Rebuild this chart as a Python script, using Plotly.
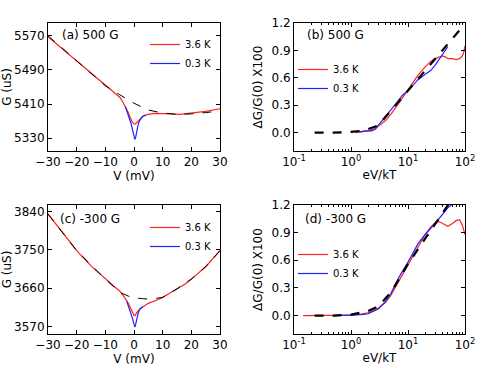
import plotly.graph_objects as go

# (a) 500 G : G vs V
v_a_red = [-30, -25, -20, -15, -10, -7, -5, -4, -3, -2, -1.5, -1, -0.5, 0, 0.3, 0.6, 1, 1.5, 2, 3, 4, 5, 7, 10, 13, 16, 20, 25, 30]
g_a_red = [5568, 5540, 5512, 5483, 5454, 5439, 5426, 5416, 5404, 5390, 5381, 5373, 5367, 5364, 5363, 5364, 5367, 5372, 5376, 5381, 5384, 5386, 5388, 5388, 5387, 5386, 5389, 5393, 5399]
v_a_blue = [-3, -2, -1.5, -1, -0.5, 0, 0.3, 0.6, 1, 1.5, 2, 3, 4]
g_a_blue = [5404, 5386, 5376, 5364, 5349, 5333, 5327, 5333, 5349, 5363, 5372, 5381, 5384]
v_a_bg = [-30, -20, -10, -5, 0, 5, 10, 15, 20, 25, 30]
g_a_bg = [5570, 5512, 5453, 5432, 5412, 5396, 5389, 5386, 5387, 5390, 5394]

# (c) -300 G : G vs V
v_c_red = [-30, -25, -20, -15, -10, -7, -5, -4, -3, -2, -1, -0.5, 0, 0.3, 0.6, 1, 2, 3, 5, 8, 10, 13, 15, 18, 20, 25, 30]
g_c_red = [3834, 3790, 3748, 3712, 3681, 3664, 3653, 3645, 3635, 3624, 3610, 3601, 3596, 3595, 3597, 3602, 3611, 3616, 3624, 3632, 3638, 3650, 3658, 3670, 3681, 3710, 3748]
v_c_blue = [-2.5, -2, -1.5, -1, -0.5, 0, 0.3, 0.6, 1, 1.5, 2, 3]
g_c_blue = [3628, 3619, 3610, 3600, 3588, 3575, 3568, 3575, 3590, 3602, 3610, 3616]
v_c_bg = [-30, -20, -10, -5, -2, 0, 3, 5, 8, 10, 15, 20, 25, 30]
g_c_bg = [3834, 3748, 3681, 3650, 3641, 3637, 3635, 3634, 3636, 3638, 3658, 3681, 3710, 3748]

# (b) 500 G : dG/G(0) vs eV/kT
x_b_red = [1.2, 1.5, 2, 2.5, 3, 4, 5, 7, 10, 15, 20, 25, 30, 35, 40, 45, 50, 60, 70, 80, 90, 95, 100]
y_b_red = [0.0, 0.01, 0.02, 0.04, 0.07, 0.13, 0.2, 0.33, 0.47, 0.63, 0.72, 0.78, 0.81, 0.83, 0.84, 0.83, 0.81, 0.81, 0.8, 0.81, 0.84, 0.88, 0.95]
x_b_blue = [1.4, 1.8, 2.3, 2.7, 3, 4, 5, 6, 8, 10, 15, 20, 25, 30, 35, 40, 45, 50]
y_b_blue = [0.01, 0.02, 0.02, 0.04, 0.08, 0.17, 0.25, 0.31, 0.41, 0.46, 0.58, 0.64, 0.68, 0.74, 0.8, 0.85, 0.9, 0.94]
x_b_fit = [0.23, 0.5, 1, 1.5, 2, 3, 5, 10, 20, 30, 50, 100]
y_b_fit = [0.0, 0.0, 0.01, 0.02, 0.04, 0.08, 0.24, 0.46, 0.68, 0.81, 0.97, 1.19]

# (d) -300 G
x_d_red = [0.145, 0.3, 0.5, 1, 1.5, 2, 3, 4, 5, 7, 10, 15, 20, 25, 30, 35, 40, 50, 60, 70, 80, 90, 100]
y_d_red = [0.0, 0.0, 0.0, 0.005, 0.015, 0.03, 0.08, 0.14, 0.22, 0.38, 0.55, 0.75, 0.88, 0.96, 1.01, 1.02, 1.0, 0.97, 1.0, 1.03, 1.04, 0.98, 0.88]
x_d_blue = [0.5, 1, 1.5, 2, 3, 4, 5, 7, 10, 15, 20, 30, 40, 50, 60]
y_d_blue = [0.0, 0.005, 0.01, 0.02, 0.07, 0.15, 0.24, 0.42, 0.58, 0.78, 0.88, 1.0, 1.1, 1.17, 1.21]
x_d_fit = [0.23, 0.5, 1, 2, 3, 5, 10, 20, 30, 50, 60]
y_d_fit = [0.0, 0.0, 0.01, 0.05, 0.1, 0.25, 0.56, 0.84, 1.0, 1.2, 1.27]

log_ticks = [0.1, 1, 10, 100]
log_ticktext = ['10<sup>-1</sup>', '10<sup>0</sup>', '10<sup>1</sup>', '10<sup>2</sup>']
log_minor = [m * d for d in (0.1, 1, 10) for m in range(2, 10)]

FONT = 'DejaVu Sans'
RED = '#ff2020'
BLUE = '#2020ff'

fig = go.Figure()

panels = [
    # axis suffix, data, legend name, dash width
    ('', v_a_red, g_a_red, v_a_blue, g_a_blue, v_a_bg, g_a_bg, 'legend', 1.0),
    ('2', x_b_red, y_b_red, x_b_blue, y_b_blue, x_b_fit, y_b_fit, 'legend2', 2.2),
    ('3', v_c_red, g_c_red, v_c_blue, g_c_blue, v_c_bg, g_c_bg, 'legend3', 1.0),
    ('4', x_d_red, y_d_red, x_d_blue, y_d_blue, x_d_fit, y_d_fit, 'legend4', 2.2),
]

for ax, xr, yr, xb, yb, xk, yk, leg, kw in panels:
    fig.add_trace(go.Scatter(x=xr, y=yr, mode='lines', name='3.6 K',
                             line=dict(color=RED, width=1.2),
                             xaxis='x' + ax, yaxis='y' + ax, legend=leg))
    fig.add_trace(go.Scatter(x=xb, y=yb, mode='lines', name='0.3 K',
                             line=dict(color=BLUE, width=1.2),
                             xaxis='x' + ax, yaxis='y' + ax, legend=leg))
    fig.add_trace(go.Scatter(x=xk, y=yk, mode='lines', showlegend=False,
                             line=dict(color='black', width=kw, dash='dash'),
                             xaxis='x' + ax, yaxis='y' + ax))

W, H = 491, 368


def dom_x(a, b):
    return [a / W, b / W]


def dom_y(top, bot):
    return [1 - bot / H, 1 - top / H]


common = dict(showline=True, mirror='ticks', linecolor='black', linewidth=1,
              ticks='inside', ticklen=4, tickcolor='black', showgrid=False,
              zeroline=False, tickfont=dict(size=12), title_font=dict(size=12),
              tickangle=0, automargin=False)

lin_v = dict(range=[-30, 30], tickvals=[-30, -20, -10, 0, 10, 20, 30],
             title=dict(text='V (mV)', standoff=2))
log_x = dict(type='log', range=[-1, 2], tickvals=log_ticks, ticktext=log_ticktext,
             minor=dict(ticks='inside', ticklen=2, tickvals=log_minor, tickcolor='black'),
             title=dict(text='eV/kT', standoff=2))
dg_y = dict(range=[-0.2, 1.2], tickvals=[0.0, 0.3, 0.6, 0.9, 1.2], tickformat='.1f',
            title=dict(text='ΔG/G(0) X100', standoff=6))

fig.update_layout(
    width=W, height=H,
    margin=dict(l=0, r=0, t=0, b=0),
    paper_bgcolor='white', plot_bgcolor='white',
    font=dict(family=FONT, size=12, color='black'),
    xaxis=dict(common, **lin_v, domain=dom_x(48, 220), anchor='y'),
    yaxis=dict(common, range=[5300, 5600], tickvals=[5330, 5410, 5490, 5570],
               title=dict(text='G (uS)', standoff=6), domain=dom_y(23, 151), anchor='x'),
    xaxis2=dict(common, **log_x, domain=dom_x(294, 465), anchor='y2'),
    yaxis2=dict(common, **dg_y, domain=dom_y(23, 151), anchor='x2'),
    xaxis3=dict(common, **lin_v, domain=dom_x(48, 220), anchor='y3'),
    yaxis3=dict(common, range=[3552, 3855], tickvals=[3570, 3660, 3750, 3840],
                title=dict(text='G (uS)', standoff=6), domain=dom_y(205, 334), anchor='x3'),
    xaxis4=dict(common, **log_x, domain=dom_x(294, 465), anchor='y4'),
    yaxis4=dict(common, **dg_y, domain=dom_y(205, 334), anchor='x4'),
)

leg_style = dict(font=dict(size=10), bgcolor='rgba(0,0,0,0)', itemwidth=30,
                 xanchor='left', yanchor='top', tracegroupgap=0)
fig.update_layout(
    legend=dict(leg_style, x=145 / W, y=1 - 30 / H),
    legend2=dict(leg_style, x=293 / W, y=1 - 55 / H),
    legend3=dict(leg_style, x=145 / W, y=1 - 213 / H),
    legend4=dict(leg_style, x=293 / W, y=1 - 240 / H),
)

labels = [('(a) 500 G', 'x domain', 'y domain', 0.07, 0.906),
          ('(b) 500 G', 'x2 domain', 'y2 domain', 0.064, 0.906),
          ('(c) -300 G', 'x3 domain', 'y3 domain', 0.058, 0.89),
          ('(d) -300 G', 'x4 domain', 'y4 domain', 0.053, 0.89)]
for txt, xr, yr, xx, yy in labels:
    fig.add_annotation(text=txt, xref=xr, yref=yr, x=xx, y=yy, showarrow=False,
                       xanchor='left', yanchor='middle', font=dict(size=12))

# the page body has a default 8px margin; drop it so the figure sits at (0, 0)
fig.write_html('out.html', config={'displayModeBar': False},
               post_script="document.body.style.margin='0px';")
